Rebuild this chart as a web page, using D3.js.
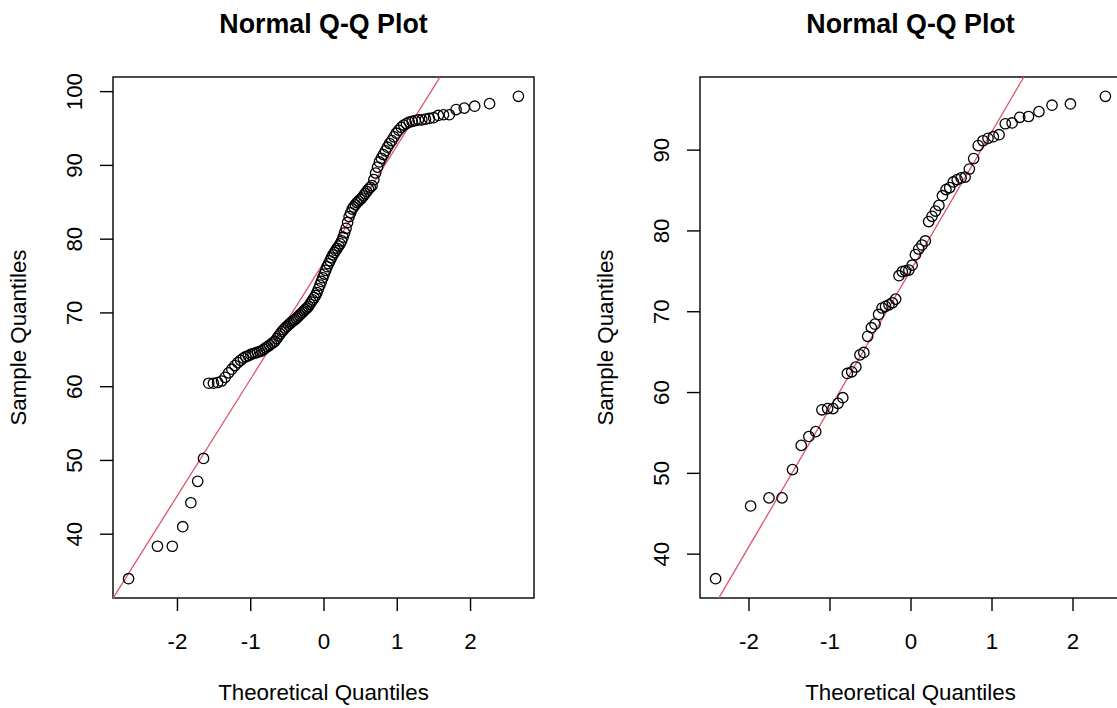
<!DOCTYPE html>
<html>
<head>
<meta charset="utf-8">
<script src="https://cdn.jsdelivr.net/npm/d3@7"></script>
<style>
  body { margin: 0; background: #fff; }
  svg text { font-family: "Liberation Sans", Arial, sans-serif; fill: #000; }
</style>
</head>
<body>
<div id="chart"></div>
<script>
// Data: sorted sample values
//= ================================
var leftSample = [
  33.9, 38.3, 38.3, 40.95, 44.2, 47.1, 50.2, 60.4, 60.4, 60.5,
  60.7, 61.2, 61.8, 62.3, 62.8, 63.2, 63.5, 63.8, 64.0, 64.1,
  64.3, 64.4, 64.5, 64.6, 64.7, 64.8, 65.0, 65.2, 65.35, 65.55,
  65.75, 65.9, 66.1, 66.45, 66.8, 67.1, 67.4, 67.65, 67.9, 68.1,
  68.3, 68.5, 68.7, 68.9, 69.0, 69.2, 69.4, 69.6, 69.8, 70.0,
  70.2, 70.4, 70.6, 70.8, 71.1, 71.4, 71.7, 72.0, 72.3, 72.7,
  73.2, 73.7, 74.2, 74.7, 75.2, 75.7, 76.2, 76.6, 77.0, 77.4,
  77.8, 78.1, 78.4, 78.7, 79.0, 79.3, 79.7, 80.2, 80.8, 81.4,
  82.2, 83.0, 83.5, 84.0, 84.3, 84.6, 84.9, 85.1, 85.3, 85.5,
  85.8, 86.1, 86.4, 86.7, 86.95, 87.2, 88.0, 88.9, 89.7, 90.4,
  90.9, 91.4, 91.9, 92.4, 92.9, 93.3, 93.8, 94.3, 94.7, 95.1,
  95.4, 95.6, 95.8, 95.9, 96.0, 96.1, 96.1, 96.2, 96.3, 96.4,
  96.7, 96.8, 96.8, 97.5, 97.7, 97.96, 98.3, 99.3
];

var rightSample = [
  36.9, 45.9, 46.9, 46.9, 50.4, 53.4, 54.5, 55.1, 57.8, 57.95,
  57.95, 58.6, 59.3, 62.3, 62.5, 63.1, 64.6, 64.9, 66.9, 67.96,
  68.4, 69.6, 70.4, 70.6, 70.8, 71.05, 71.5, 74.4, 74.9, 75.0,
  75.1, 75.7, 77.0, 77.7, 78.2, 78.7, 81.1, 81.75, 82.4, 83.1,
  84.3, 85.05, 85.3, 86.0, 86.3, 86.5, 86.6, 87.6, 88.9, 90.5,
  91.1, 91.4, 91.6, 91.85, 93.2, 93.3, 94.0, 94.1, 94.7, 95.5,
  95.65, 96.6
];

var xTicks = [-2, -1, 0, 1, 2];
var leftYTicks = [40, 50, 60, 70, 80, 90, 100];
var rightYTicks = [40, 50, 60, 70, 80, 90];

var titleText = "Normal Q-Q Plot";
var xLabel = "Theoretical Quantiles";
var yLabel = "Sample Quantiles";

// Set up chart
//= ================================
var svgWidth = 1117;
var svgHeight = 708;
var panelWidth = 587;

var margin = { top: 77, left: 113 };
var width = 421;
var height = 521;

var svg = d3.select("#chart")
  .append("svg")
  .attr("width", svgWidth)
  .attr("height", svgHeight);

// inverse normal cdf (Acklam), used like R's qnorm
function qnorm(p) {
  var a = [-3.969683028665376e+01, 2.209460984245205e+02, -2.759285104469687e+02, 1.383577518672690e+02, -3.066479806614716e+01, 2.506628277459239e+00];
  var b = [-5.447609879822406e+01, 1.615858368580409e+02, -1.556989798598866e+02, 6.680131188771972e+01, -1.328068155288572e+01];
  var c = [-7.784894002430293e-03, -3.223964580411365e-01, -2.400758277161838e+00, -2.549732539343734e+00, 4.374664141464968e+00, 2.938163982698783e+00];
  var d = [7.784695709041462e-03, 3.224671290700398e-01, 2.445134137142996e+00, 3.754408661907416e+00];
  var plow = 0.02425, q, r;
  if (p < plow) {
    q = Math.sqrt(-2 * Math.log(p));
    return (((((c[0] * q + c[1]) * q + c[2]) * q + c[3]) * q + c[4]) * q + c[5]) /
      ((((d[0] * q + d[1]) * q + d[2]) * q + d[3]) * q + 1);
  }
  if (p > 1 - plow) {
    q = Math.sqrt(-2 * Math.log(1 - p));
    return -(((((c[0] * q + c[1]) * q + c[2]) * q + c[3]) * q + c[4]) * q + c[5]) /
      ((((d[0] * q + d[1]) * q + d[2]) * q + d[3]) * q + 1);
  }
  q = p - 0.5;
  r = q * q;
  return (((((a[0] * r + a[1]) * r + a[2]) * r + a[3]) * r + a[4]) * r + a[5]) * q /
    (((((b[0] * r + b[1]) * r + b[2]) * r + b[3]) * r + b[4]) * r + 1);
}

function pad(ext) {
  var p = (ext[1] - ext[0]) * 0.04;
  return [ext[0] - p, ext[1] + p];
}

function drawPanel(idx, sample, yTicks) {
  var left = margin.left + idx * panelWidth;
  var n = sample.length;
  var a = n <= 10 ? 3 / 8 : 0.5;

  // theoretical quantiles from the rank of each sorted value (R ppoints)
  var points = sample.map(function(v, i) {
    return { x: qnorm((i + 1 - a) / (n + 1 - 2 * a)), y: v };
  });

  var xLinearScale = d3.scaleLinear()
    .domain(pad(d3.extent(points, d => d.x)))
    .range([0, width]);

  var yLinearScale = d3.scaleLinear()
    .domain(pad(d3.extent(points, d => d.y)))
    .range([height, 0]);

  var chartGroup = svg.append("g")
    .attr("transform", `translate(${left}, ${margin.top})`);

  chartGroup.append("clipPath")
    .attr("id", "clip" + idx)
    .append("rect")
    .attr("width", width)
    .attr("height", height);

  // axes
  var bottomAxis = d3.axisBottom(xLinearScale)
    .tickValues(xTicks)
    .tickSize(13)
    .tickFormat(d3.format("d"));
  var leftAxis = d3.axisLeft(yLinearScale)
    .tickValues(yTicks)
    .tickSize(13);

  var xAxisG = chartGroup.append("g")
    .attr("transform", `translate(0, ${height})`)
    .call(bottomAxis);
  var yAxisG = chartGroup.append("g")
    .call(leftAxis);

  [xAxisG, yAxisG].forEach(function(ax) {
    ax.select(".domain").remove();
    ax.selectAll("line").attr("stroke", "#000").attr("stroke-width", 1.4);
    ax.selectAll("text")
      .attr("font-size", "22.3px")
      .attr("font-family", "Liberation Sans, Arial, sans-serif")
      .attr("fill", "#000");
  });

  xAxisG.selectAll("text")
    .attr("y", 50.5)
    .attr("dy", 0)
    .text(d => d < 0 ? "-" + Math.abs(d) : d);

  yAxisG.selectAll("text")
    .attr("x", 0)
    .attr("dy", 0)
    .attr("text-anchor", "middle")
    .attr("transform", "translate(-31, 0) rotate(-90)");

  // box
  chartGroup.append("rect")
    .attr("width", width)
    .attr("height", height)
    .attr("fill", "none")
    .attr("stroke", "#000")
    .attr("stroke-width", 1.4);

  // qqline through the quartiles
  var q1 = d3.quantile(sample, 0.25);
  var q3 = d3.quantile(sample, 0.75);
  var z1 = qnorm(0.25);
  var z3 = qnorm(0.75);
  var slope = (q3 - q1) / (z3 - z1);
  var intercept = q1 - slope * z1;
  var xd = xLinearScale.domain();

  chartGroup.append("line")
    .attr("clip-path", `url(#clip${idx})`)
    .attr("x1", xLinearScale(xd[0]))
    .attr("y1", yLinearScale(intercept + slope * xd[0]))
    .attr("x2", xLinearScale(xd[1]))
    .attr("y2", yLinearScale(intercept + slope * xd[1]))
    .attr("stroke", "#DF536B")
    .attr("stroke-width", 1.3);

  // points
  chartGroup.append("g")
    .attr("clip-path", `url(#clip${idx})`)
    .selectAll("circle")
    .data(points)
    .enter()
    .append("circle")
    .attr("cx", d => xLinearScale(d.x))
    .attr("cy", d => yLinearScale(d.y))
    .attr("r", 5.2)
    .attr("fill", "none")
    .attr("stroke", "#000")
    .attr("stroke-width", 1.3);

  // labels
  svg.append("text")
    .attr("x", left + width / 2)
    .attr("y", 33)
    .attr("text-anchor", "middle")
    .attr("font-weight", "bold")
    .attr("font-size", "26.8px")
    .text(titleText);

  svg.append("text")
    .attr("x", left + width / 2)
    .attr("y", 700)
    .attr("text-anchor", "middle")
    .attr("font-size", "22.3px")
    .text(xLabel);

  svg.append("text")
    .attr("transform", `translate(${left - 87}, ${margin.top + height / 2}) rotate(-90)`)
    .attr("text-anchor", "middle")
    .attr("font-size", "22.3px")
    .text(yLabel);
}

drawPanel(0, leftSample, leftYTicks);
drawPanel(1, rightSample, rightYTicks);
</script>
</body>
</html>
